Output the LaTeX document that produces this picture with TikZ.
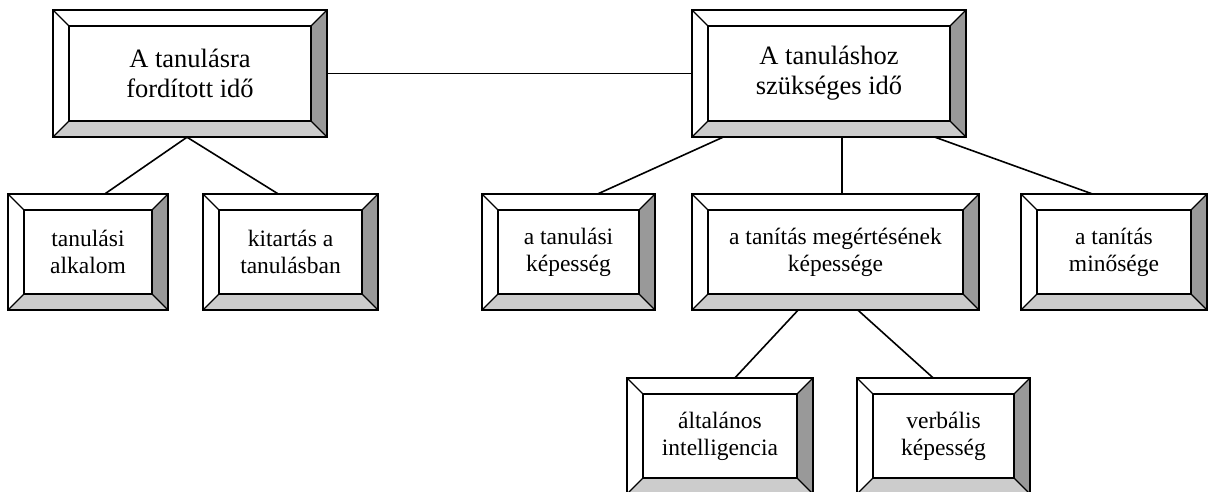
\documentclass[tikz,border=0pt]{standalone}
\usepackage{fontspec}
\setmainfont{Liberation Serif}
\definecolor{bevdark}{HTML}{999999}
\definecolor{bevlight}{HTML}{CCCCCC}
\tikzset{
  x=1pt, y=-1pt,
  outerline/.style={line width=1.9pt, line join=miter},
  innerline/.style={line width=1.6pt},
  diagline/.style={line width=1.1pt},
  conn/.style={line width=1.6pt},
  bigtext/.style={font=\fontsize{26.5}{30}\selectfont, align=center},
  smalltext/.style={font=\fontsize{23.5}{27}\selectfont, align=center},
}
% name, x1, y1, x2, y2, text style, text
\newcommand\bevelbox[7]{%
  \pgfmathsetmacro\bxa{#2}\pgfmathsetmacro\bya{#3}%
  \pgfmathsetmacro\bxb{#4}\pgfmathsetmacro\byb{#5}%
  \pgfmathsetmacro\bxc{#2+16}\pgfmathsetmacro\byc{#3+16}%
  \pgfmathsetmacro\bxd{#4-16}\pgfmathsetmacro\byd{#5-16}%
  \fill[bevdark] (\bxb,\bya) -- (\bxb,\byb) -- (\bxd,\byd) -- (\bxd,\byc) -- cycle;
  \fill[bevlight] (\bxa,\byb) -- (\bxb,\byb) -- (\bxd,\byd) -- (\bxc,\byd) -- cycle;
  \draw[diagline] (\bxa,\bya) -- (\bxc,\byc) (\bxb,\bya) -- (\bxd,\byc)
                  (\bxa,\byb) -- (\bxc,\byd) (\bxb,\byb) -- (\bxd,\byd);
  \draw[innerline] (\bxc,\byc) rectangle (\bxd,\byd);
  \draw[outerline] (\bxa,\bya) rectangle (\bxb,\byb);
  \pgfmathsetmacro\bw{#4-#2}\pgfmathsetmacro\bh{#5-#3}%
  \node[#6, rectangle, inner sep=0pt, minimum width=\bw pt, minimum height=\bh pt]
    (#1) at ({(#2+#4)/2},{(#3+#5)/2}) {#7};
}
\begin{document}
\begin{tikzpicture}
\useasboundingbox (0,0) rectangle (1209,492);
\clip (0,0) rectangle (1209,492);
\fill[white] (0,0) rectangle (1209,492);

\bevelbox{A}{53}{10}{327}{137}{bigtext}{A tanulásra\\fordított idő}
\bevelbox{B}{692}{10}{966}{137}{bigtext}{A tanuláshoz\\szükséges idő}

\bevelbox{c1}{8}{194}{168}{310}{smalltext}{tanulási\\alkalom}
\bevelbox{c2}{203}{194}{378}{310}{smalltext}{kitartás a\\tanulásban}
\bevelbox{d1}{482}{194}{655}{310}{smalltext}{a tanulási\\képesség}
\bevelbox{d2}{692}{194}{979}{310}{smalltext}{a tanítás megértésének\\képessége}
\bevelbox{d3}{1021}{194}{1207}{310}{smalltext}{a tanítás\\minősége}

\bevelbox{e1}{627}{378}{813}{494}{smalltext}{általános\\intelligencia}
\bevelbox{e2}{857}{378}{1030}{494}{smalltext}{verbális\\képesség}

\draw[conn] (A.east) -- (B.west);
\draw[conn] ([xshift=-3pt]A.south) -- ([xshift=17pt]c1.north);
\draw[conn] ([xshift=-3pt]A.south) -- ([xshift=-12.5pt]c2.north);
\draw[conn] ([xshift=-106pt]B.south) -- ([xshift=29.5pt]d1.north);
\draw[conn] ([xshift=13pt]B.south) -- ([xshift=6.5pt]d2.north);
\draw[conn] ([xshift=106pt]B.south) -- ([xshift=-22pt]d3.north);
\draw[conn] ([xshift=-37.5pt]d2.south) -- ([xshift=15pt]e1.north);
\draw[conn] ([xshift=22.5pt]d2.south) -- ([xshift=-10.5pt]e2.north);
\end{tikzpicture}
\end{document}
